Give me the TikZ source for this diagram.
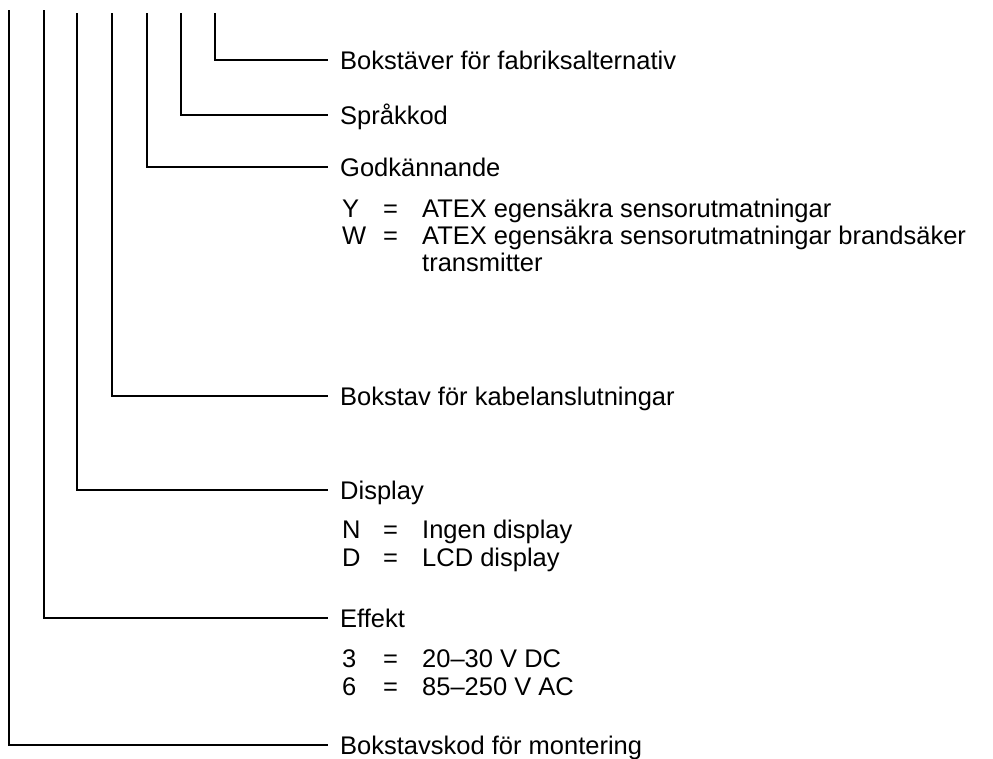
\documentclass[tikz,border=0pt]{standalone}
\usepackage{fontspec}
\setmainfont{Liberation Sans}
\begin{document}
\begin{tikzpicture}[x=1pt,y=-1pt,
  conn/.style={draw=black, line width=2.2pt},
  lbl/.style={anchor=west, inner xsep=12pt, inner ysep=0pt, text height=18.3pt, text depth=0pt, font=\fontsize{25.5}{30}\selectfont},
  item/.style={anchor=west, inner sep=0pt, text height=18.3pt, text depth=0pt, font=\fontsize{25.5}{30}\selectfont}]
\useasboundingbox (0,0) rectangle (993,758);
% tops of the vertical lines
\coordinate (t1) at (215,13);
\coordinate (t2) at (181,13);
\coordinate (t3) at (147,13);
\coordinate (t4) at (112,13);
\coordinate (t5) at (77,13);
\coordinate (t6) at (44,10);
\coordinate (t7) at (9,10);
% labels
\node[lbl] (l1) at (328,60) {Bokstäver för fabriksalternativ};
\node[lbl] (l2) at (328,115) {Språkkod};
\node[lbl] (l3) at (328,167) {Godkännande};
\node[lbl] (l4) at (328,396) {Bokstav för kabelanslutningar};
\node[lbl] (l5) at (328,490) {Display};
\node[lbl] (l6) at (328,618) {Effekt};
\node[lbl] (l7) at (328,745) {Bokstavskod för montering};
% connectors
\draw[conn] (t1) |- (l1.west);
\draw[conn] (t2) |- (l2.west);
\draw[conn] (t3) |- (l3.west);
\draw[conn] (t4) |- (l4.west);
\draw[conn] (t5) |- (l5.west);
\draw[conn] (t6) |- (l6.west);
\draw[conn] (t7) |- (l7.west);
% option lists
\node[item] (yk) at (342,208) {Y};
\node[item] (ye) at (383,208) {=};
\node[item] (yv) at (422,208) {ATEX egensäkra sensorutmatningar};
\node[item] (wk) at (342,235) {W};
\node[item] (we) at (383,235) {=};
\node[item] (wv) at (422,235) {ATEX egensäkra sensorutmatningar brandsäker};
\node[item] (wv2) at (422,262) {transmitter};
\node[item] (nk) at (342,529) {N};
\node[item] (ne) at (383,529) {=};
\node[item] (nv) at (422,529) {Ingen display};
\node[item] (dk) at (342,557) {D};
\node[item] (de) at (383,557) {=};
\node[item] (dv) at (422,557) {LCD display};
\node[item] (ak) at (342,658) {3};
\node[item] (ae) at (383,658) {=};
\node[item] (av) at (422,658) {20–30 V DC};
\node[item] (bk) at (342,686) {6};
\node[item] (be) at (383,686) {=};
\node[item] (bv) at (422,686) {85–250 V AC};
\end{tikzpicture}
\end{document}
